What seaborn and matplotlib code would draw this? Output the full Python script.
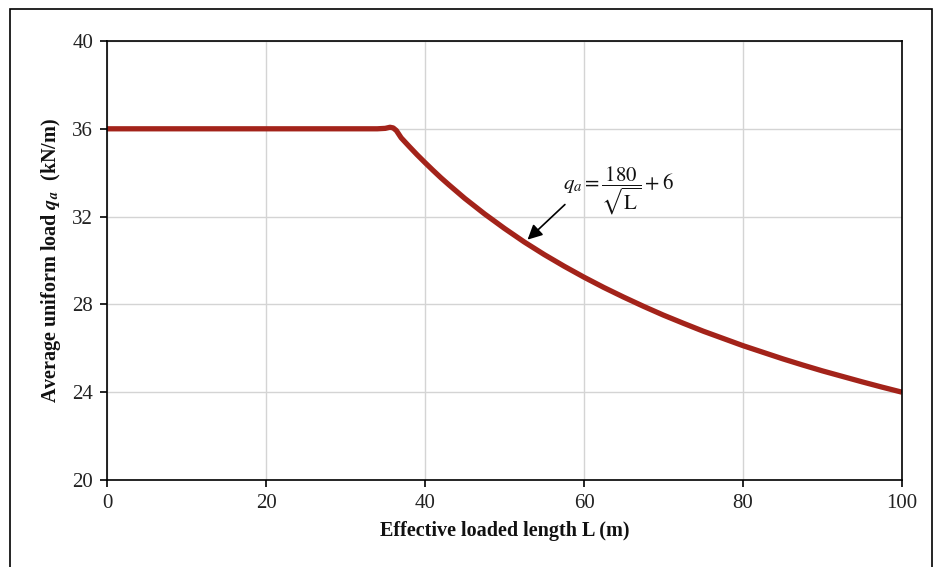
import numpy as np
import pandas as pd
import seaborn as sns
import matplotlib.pyplot as plt
from matplotlib.patches import Rectangle

# Values
length_m = [0, 5, 10, 15, 20, 25, 30, 34, 35, 35.6, 36.0, 36.4, 37, 38, 39, 40,
            41, 42, 43, 44, 45, 47.5, 50, 52.5, 55, 57.5, 60, 62.5, 65, 67.5,
            70, 72.5, 75, 77.5, 80, 82.5, 85, 87.5, 90, 92.5, 95, 97.5, 100]
load_kn_m = [36.0, 36.0, 36.0, 36.0, 36.0, 36.0, 36.0, 36.0, 36.02, 36.07, 36.04, 35.92,
             35.59, 35.20, 34.82, 34.46, 34.11, 33.77, 33.45, 33.14, 32.83, 32.12,
             31.46, 30.84, 30.27, 29.74, 29.24, 28.77, 28.33, 27.91, 27.51, 27.14,
             26.78, 26.45, 26.12, 25.82, 25.52, 25.24, 24.97, 24.72, 24.47, 24.23, 24.00]
x_ticks = [0, 20, 40, 60, 80, 100]
y_ticks = [20, 24, 28, 32, 36, 40]

df = pd.DataFrame({'L': length_m, 'qa': load_kn_m})

sns.set_theme(style="whitegrid")
plt.rcParams['font.family'] = ['Liberation Serif', 'DejaVu Serif']
plt.rcParams['mathtext.fontset'] = 'stix'

fig = plt.figure(figsize=(9.38, 5.67), dpi=100)
ax = fig.add_axes([107 / 938, 1 - 480 / 567, (902 - 107) / 938, (480 - 41) / 567])

sns.lineplot(data=df, x='L', y='qa', ax=ax, color='#A3231A', linewidth=3.8,
             solid_capstyle='butt', solid_joinstyle='round')

ax.set_xlim(0, 100)
ax.set_ylim(20, 40)
ax.set_xticks(x_ticks)
ax.set_yticks(y_ticks)
ax.tick_params(axis='both', which='major', labelsize=15, length=5, width=1.2,
               direction='out', color='black', bottom=True, left=True, pad=5,
               labelcolor='#222222')
ax.grid(True, color='#d4d4d4', linewidth=1)
for s in ax.spines.values():
    s.set_color('black')
    s.set_linewidth(1.2)

ax.set_xlabel('Effective loaded length L (m)', fontsize=14.5, fontweight='bold',
              labelpad=6, color='#111111')
ax.set_ylabel(r'Average uniform load $\mathbfit{q_a}$  (kN/m)', fontsize=14.5,
              fontweight='bold', labelpad=7, color='#111111')

# formula label and its arrow
ax.text(57.3, 33.2, r'$q_a = \dfrac{180}{\sqrt{\mathrm{L}}} + 6$', fontsize=15,
        ha='left', va='center', color='#111111')
ax.annotate('', xy=(52.9, 30.95), xytext=(57.6, 32.55),
            arrowprops=dict(arrowstyle='-|>', color='black', lw=1.2,
                            mutation_scale=22, shrinkA=0, shrinkB=0))

fig.patches.append(Rectangle((10 / 938, -0.02), (932 - 10) / 938, 1.02 - 9 / 567,
                             transform=fig.transFigure, fill=False,
                             edgecolor='black', linewidth=1.2, clip_on=False))

fig.savefig('out.png', dpi=100)
